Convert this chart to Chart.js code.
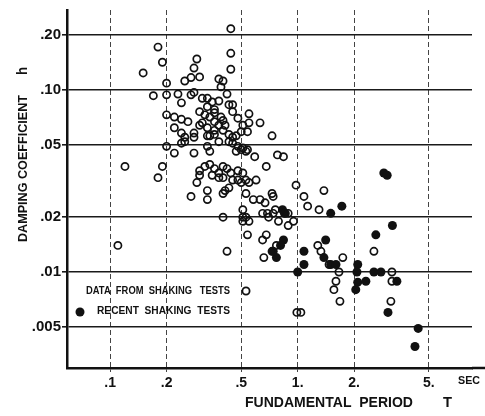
<!DOCTYPE html>
<html>
<head>
<meta charset="utf-8">
<script src="https://cdn.jsdelivr.net/npm/chart.js@4/dist/chart.umd.min.js"></script>
<style>
  html, body { margin: 0; padding: 0; background: #fff; }
  canvas { display: block; }
</style>
</head>
<body>
<canvas id="dampingChart" width="485" height="416"></canvas>
<script>
// data from shaking tests (open circles): period T [sec], damping h
const shakingPeriod = [
    0.44, 0.18, 0.44, 0.19, 0.29, 0.15, 0.28, 0.44, 0.25, 0.27, 0.30, 0.20, 0.38, 0.40, 0.39,
    0.17, 0.20, 0.23, 0.27, 0.28, 0.31, 0.33, 0.42, 0.24, 0.35, 0.38, 0.33, 0.36, 0.43, 0.45,
    0.45, 0.20, 0.22, 0.24, 0.30, 0.26, 0.55, 0.22, 0.24, 0.25, 0.28, 0.30, 0.31, 0.55, 0.63,
    0.54, 0.73, 0.20, 0.24, 0.28, 0.33, 0.34, 0.36, 0.33, 0.34, 0.38, 0.43, 0.45, 0.47, 0.43,
    0.45, 0.48, 0.51, 0.54, 0.53, 0.22, 0.28, 0.47, 0.50, 0.59, 0.78, 0.84, 0.68, 0.12, 0.19,
    0.18, 0.29, 0.30, 0.32, 0.34, 0.36, 0.38, 0.40, 0.42, 0.44, 0.38, 0.40, 0.35, 0.48, 0.51,
    0.30, 0.45, 0.48, 0.50, 0.53, 0.55, 0.60, 0.43, 0.41, 0.40, 0.27, 0.33, 0.33, 0.53, 0.58,
    0.63, 0.67, 0.73, 0.74, 0.98, 0.51, 0.53, 0.65, 0.69, 0.70, 0.74, 0.76, 0.79, 0.86, 0.89,
    0.51, 0.55, 0.95, 0.89, 1.08, 1.13, 1.30, 1.38, 0.54, 0.65, 0.68, 0.77, 0.73, 0.66, 1.28,
    1.33, 1.74, 2.55, 1.47, 1.66, 1.60, 1.56, 1.68, 3.18, 3.18, 3.14, 0.99, 1.04, 0.11, 0.42,
    0.40, 0.51, 0.32, 0.34, 0.36, 0.39, 0.36, 0.38, 0.40, 0.33, 0.36, 0.40, 0.41, 0.48, 0.51,
    0.50, 0.25
];
const shakingDamping = [
    0.217, 0.172, 0.159, 0.142, 0.148, 0.124, 0.132, 0.130, 0.112, 0.117, 0.118, 0.109, 0.115, 0.112, 0.104,
    0.093, 0.094, 0.095, 0.094, 0.097, 0.090, 0.090, 0.095, 0.085, 0.086, 0.087, 0.081, 0.078, 0.083, 0.083,
    0.076, 0.073, 0.071, 0.069, 0.076, 0.067, 0.074, 0.062, 0.058, 0.055, 0.058, 0.064, 0.066, 0.066, 0.066,
    0.059, 0.056, 0.049, 0.051, 0.055, 0.056, 0.056, 0.057, 0.049, 0.046, 0.052, 0.057, 0.055, 0.056, 0.052,
    0.051, 0.049, 0.048, 0.047, 0.046, 0.045, 0.045, 0.046, 0.047, 0.043, 0.044, 0.043, 0.038, 0.038, 0.038,
    0.033, 0.031, 0.036, 0.038, 0.039, 0.037, 0.035, 0.038, 0.037, 0.035, 0.033, 0.033, 0.034, 0.036, 0.035,
    0.034, 0.032, 0.032, 0.031, 0.032, 0.031, 0.032, 0.029, 0.028, 0.027, 0.026, 0.028, 0.025, 0.027, 0.025,
    0.025, 0.024, 0.027, 0.026, 0.030, 0.022, 0.020, 0.021, 0.021, 0.020, 0.021, 0.022, 0.019, 0.021, 0.021,
    0.019, 0.019, 0.019, 0.018, 0.026, 0.023, 0.022, 0.028, 0.016, 0.015, 0.016, 0.014, 0.013, 0.012, 0.014,
    0.013, 0.012, 0.013, 0.011, 0.010, 0.0089, 0.0080, 0.0069, 0.010, 0.0089, 0.0069, 0.0060, 0.0060, 0.014, 0.013,
    0.020, 0.020, 0.073, 0.071, 0.075, 0.071, 0.067, 0.064, 0.068, 0.062, 0.060, 0.060, 0.064, 0.070, 0.064,
    0.059, 0.052
];

// recent shaking tests (filled circles)
const recentPeriod = [
    0.83, 0.85, 1.50, 1.72, 2.88, 3.00, 3.20, 2.61, 0.84, 0.81, 0.77, 0.74, 1.08, 1.08, 1.00,
    1.41, 1.38, 1.50, 1.60, 2.09, 2.07, 2.09, 2.31, 2.04, 2.55, 2.78, 3.38, 3.03, 4.39, 4.22
];
const recentDamping = [
    0.022, 0.021, 0.021, 0.023, 0.035, 0.034, 0.018, 0.016, 0.015, 0.014, 0.012, 0.013, 0.013, 0.011, 0.010,
    0.015, 0.012, 0.011, 0.011, 0.011, 0.010, 0.0088, 0.0089, 0.0080, 0.010, 0.010, 0.0089, 0.0060, 0.0049, 0.0039
];

const periodTicks = [0.1, 0.2, 0.5, 1, 2, 5];
const periodLabels = ['.1', '.2', '.5', '1.', '2.', '5.'];
const dampingTicks = [0.005, 0.01, 0.02, 0.05, 0.1, 0.2];
const dampingLabels = ['.005', '.01', '.02', '.05', '.10', '.20'];

const INK = '#111';
const FONT = '"Liberation Sans", Arial, sans-serif';

function fitText(ctx, text, x, y, width, font) {
    ctx.font = font;
    const w = ctx.measureText(text).width;
    ctx.save();
    ctx.translate(x, y);
    ctx.scale(width / w, 1);
    ctx.textAlign = 'left';
    ctx.textBaseline = 'middle';
    ctx.fillText(text, 0, 0);
    ctx.restore();
}

// titles, legend and the extra bits of the old drawing
const annotations = {
    id: 'annotations',
    afterDraw(chart) {
        const ctx = chart.ctx;
        const area = chart.chartArea;
        ctx.save();
        ctx.fillStyle = INK;
        ctx.strokeStyle = INK;

        // x axis line runs on past the grid
        ctx.lineWidth = 2.5;
        ctx.beginPath();
        ctx.moveTo(area.right, area.bottom);
        ctx.lineTo(485, area.bottom);
        ctx.stroke();

        fitText(ctx, 'FUNDAMENTAL  PERIOD', 245, 403, 168, 'bold 14px ' + FONT);
        fitText(ctx, 'T', 443, 403, 9, 'bold 14px ' + FONT);
        fitText(ctx, 'SEC', 458, 381, 22, 'bold 10px ' + FONT);

        ctx.save();
        ctx.translate(23, 168);
        ctx.rotate(-Math.PI / 2);
        fitText(ctx, 'DAMPING COEFFICIENT', -74, 0, 147, 'bold 13px ' + FONT);
        fitText(ctx, 'h', 93, 0, 8, 'bold 14px ' + FONT);
        ctx.restore();

        // legend
        fitText(ctx, 'DATA  FROM  SHAKING   TESTS', 86, 291, 144, 'bold 10px ' + FONT);
        ctx.lineWidth = 1.8;
        ctx.beginPath();
        ctx.arc(246, 291, 3.6, 0, Math.PI * 2);
        ctx.stroke();
        fitText(ctx, 'RECENT  SHAKING  TESTS', 97, 311, 133, 'bold 10px ' + FONT);
        ctx.beginPath();
        ctx.arc(80, 312, 4.5, 0, Math.PI * 2);
        ctx.fill();

        ctx.restore();
    }
};

document.addEventListener('DOMContentLoaded', function() {
    const ctx = document.getElementById('dampingChart');

    new Chart(ctx, {
        type: 'scatter',
        data: {
            datasets: [{
                label: 'DATA FROM SHAKING TESTS',
                data: shakingPeriod.map((t, i) => ({ x: t, y: shakingDamping[i] })),
                pointRadius: 3.6,
                pointBorderWidth: 1.7,
                borderColor: INK,
                backgroundColor: 'rgba(0,0,0,0)'
            }, {
                label: 'RECENT SHAKING TESTS',
                data: recentPeriod.map((t, i) => ({ x: t, y: recentDamping[i] })),
                pointRadius: 4.5,
                pointBorderWidth: 0,
                borderColor: INK,
                backgroundColor: INK
            }]
        },
        options: {
            responsive: false,
            animation: false,
            layout: {
                padding: { left: 0, top: 10, right: 13, bottom: 0 }
            },
            plugins: {
                legend: { display: false },
                tooltip: { enabled: false }
            },
            scales: {
                x: {
                    type: 'logarithmic',
                    min: 0.0589,
                    max: 8.5,
                    afterBuildTicks: scale => {
                        scale.ticks = periodTicks.map(v => ({ value: v }));
                    },
                    afterFit: scale => {
                        scale.height = 48;
                    },
                    ticks: {
                        autoSkip: false,
                        maxRotation: 0,
                        padding: 3,
                        color: INK,
                        font: { family: FONT, size: 14, weight: 'bold' },
                        callback: value => periodLabels[periodTicks.indexOf(value)]
                    },
                    grid: {
                        color: '#444',
                        lineWidth: 1,
                        tickLength: 4
                    },
                    border: {
                        color: INK,
                        width: 2.5,
                        dash: [5, 3]
                    }
                },
                y: {
                    type: 'logarithmic',
                    min: 0.00297,
                    max: 0.275,
                    afterBuildTicks: scale => {
                        scale.ticks = dampingTicks.map(v => ({ value: v }));
                    },
                    afterFit: scale => {
                        scale.width = 67;
                    },
                    ticks: {
                        autoSkip: false,
                        padding: 1,
                        color: INK,
                        font: { family: FONT, size: 15, weight: 'bold' },
                        callback: value => dampingLabels[dampingTicks.indexOf(value)]
                    },
                    grid: {
                        color: '#1a1a1a',
                        lineWidth: 1.6,
                        tickLength: 5
                    },
                    border: {
                        color: INK,
                        width: 2.5
                    }
                }
            }
        },
        plugins: [annotations]
    });
});
</script>
</body>
</html>
